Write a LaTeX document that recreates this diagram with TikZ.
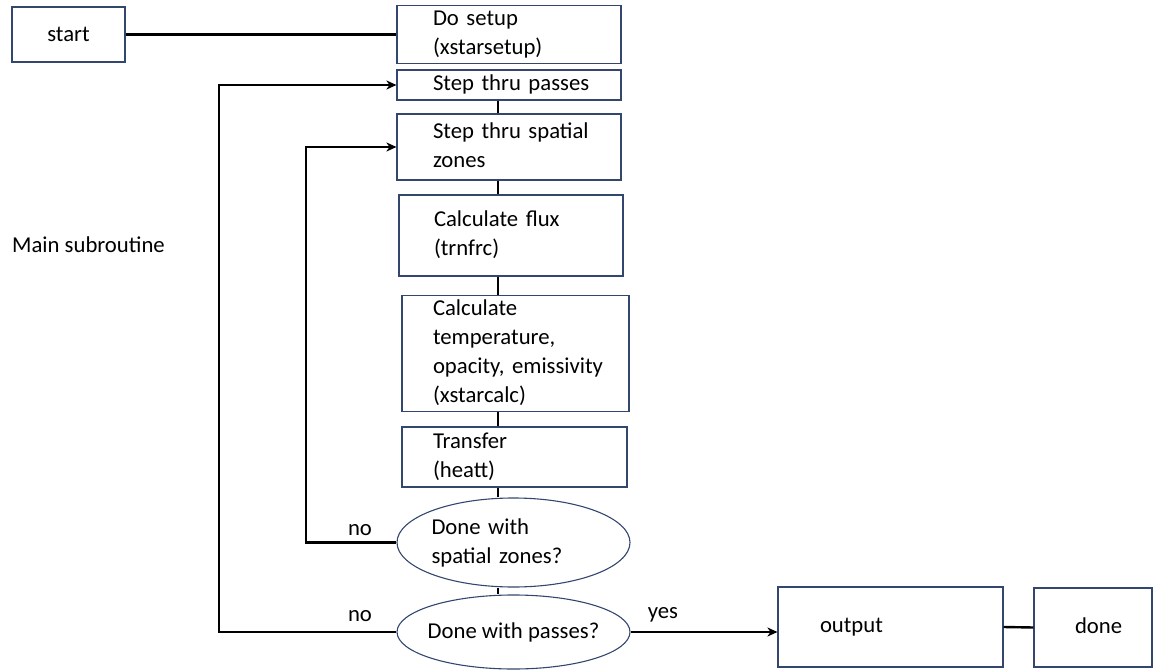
\documentclass[tikz,border=0pt]{standalone}
\usepackage{fontspec}
\setmainfont{Carlito}
\usetikzlibrary{arrows.meta,shapes.geometric,calc}
\definecolor{boxline}{RGB}{50,70,110}
\newcommand{\boxtext}[2]{\hspace*{#1pt}\begin{tabular}{@{}l@{}}#2\end{tabular}}
\begin{document}
\begin{tikzpicture}[x=1pt,y=-1pt,
  base/.style={font=\fontsize{22.7pt}{29pt}\selectfont},
  box/.style={base, draw=boxline, line width=1.1pt, rectangle, inner sep=0pt, align=left},
  ell/.style={base, ellipse, draw=boxline, line width=1.1pt, inner sep=0pt, align=left},
  lbl/.style={base, inner sep=0pt},
  conn/.style={draw=black, line width=2.4pt},
  arr/.style={conn, -{Stealth[length=10pt,width=9pt,inset=3pt]}}]
\useasboundingbox (0,0) rectangle (1159,671);

\node[box, align=center, text width=113pt, minimum height=55pt] (start) at (68.5,34.5) {start};
\node[box, text width=224pt, minimum height=55pt] (setup) at (509,34.5) {\boxtext{36}{Do setup\\(xstarsetup)}};
\node[box, text width=224pt, minimum height=30pt] (passes) at (509,85) {\boxtext{36}{Step thru passes}};
\node[box, text width=224pt, minimum height=66pt] (spatial) at (509,147) {\boxtext{36}{Step thru spatial\\zones}};
\node[box, text width=224pt, minimum height=81pt] (flux) at (511,235.5) {\boxtext{35}{Calculate flux\\(trnfrc)}};
\node[box, text width=227pt, minimum height=113pt] (temp) at (515.5,353.5) {\boxtext{31}{Calculate\\temperature,\\opacity, emissivity\\(xstarcalc)}};
\node[box, text width=225pt, minimum height=60pt] (transfer) at (514.5,457) {\boxtext{31}{Transfer\\(heatt)}};
\node[ell, text width=164pt, minimum width=233pt, minimum height=89pt] (dz) at (513.5,542.5) {Done with\\spatial zones?};
\node[ell, align=center, minimum width=233pt, minimum height=74pt] (dp) at (513.5,632) {\makebox[0pt]{Done with passes?}};
\node[box, text width=225pt, minimum height=80pt] (output) at (890.5,627) {\boxtext{42}{output}};
\node[box, text width=118pt, minimum height=79pt] (done) at (1093,627.5) {\boxtext{41}{done}};

\node[lbl, anchor=west] (main) at (12,245) {Main subroutine};
\node[lbl] (no1) at (360,530) {no};
\node[lbl] (no2) at (360,616) {no};
\node[lbl] (yes) at (663,615) {yes};

\coordinate (xl) at (498,0);
\coordinate (il) at (306,147);
\coordinate (ol) at (219,85);

\draw[conn] (start.east) -- (setup.west);
\draw[conn] (passes.south -| xl) -- (spatial.north -| xl);
\draw[conn] (spatial.south -| xl) -- (flux.north -| xl);
\draw[conn] (flux.south -| xl) -- (temp.north -| xl);
\draw[conn] (temp.south -| xl) -- (transfer.north -| xl);
\draw[conn] (transfer.south -| xl) -- (dz.north -| xl);
\draw[conn] (dz.south -| xl) -- (dp.north -| xl);
\draw[arr] (dz.west) -| (il) -- (spatial.west);
\draw[arr] (dp.west) -| (ol) -- (passes.west);
\draw[arr] (dp.east) -- (output.west |- dp.east);
\draw[conn] (output.east) -- (done.west);
\end{tikzpicture}
\end{document}
